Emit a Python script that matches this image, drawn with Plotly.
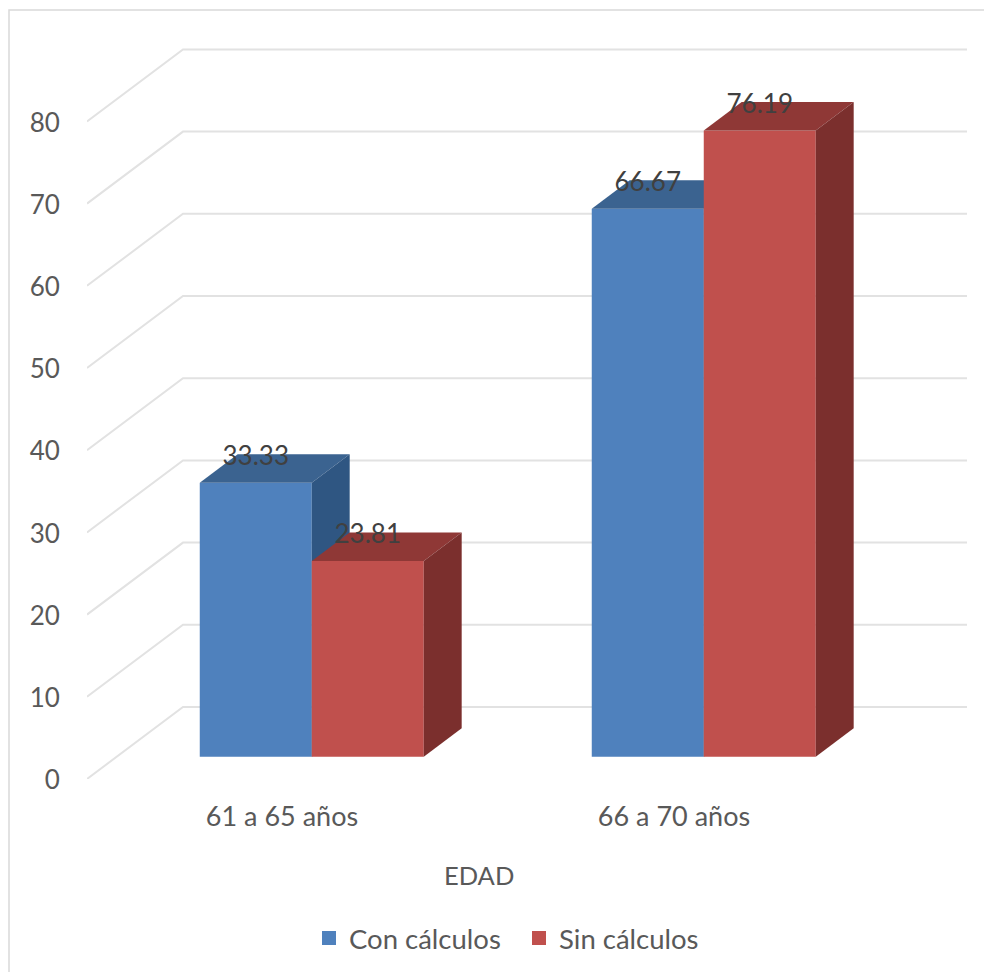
import plotly.graph_objects as go

# Chart values
categories = ["61 a 65 años", "66 a 70 años"]
con_calculos = [33.33, 66.67]
sin_calculos = [23.81, 76.19]
y_ticks = [0, 10, 20, 30, 40, 50, 60, 70, 80]

# Page and plot geometry
WIDTH, HEIGHT = 984, 972
M_L, M_R, M_T, M_B = 87, 17, 40, 193
PLOT_W = WIDTH - M_L - M_R
PLOT_H = HEIGHT - M_T - M_B
PX_PER_CAT = 392.0
PX_PER_UNIT = 8.22
X_MIN = -(282 - M_L) / PX_PER_CAT
X_MAX = X_MIN + PLOT_W / PX_PER_CAT
Y_MAX = PLOT_H / PX_PER_UNIT

# Oblique projection: depth of the floor in axis units
DEPTH_X = 96 / PX_PER_CAT
DEPTH_Y = 72 / PX_PER_UNIT
BAR_W = 112 / PX_PER_CAT
BAR_DEPTH = 0.395  # how much of the depth a bar takes
bar_dx = BAR_DEPTH * DEPTH_X
bar_dy = BAR_DEPTH * DEPTH_Y
floor_x = 0.31 * DEPTH_X
floor_y = 0.31 * DEPTH_Y
LABEL_DROP = 0.5   # value labels sit just below the roof's back edge

BLUE = dict(front="#4F81BD", top="#3B6390", side="#2F5682")
RED = dict(front="#C0504D", top="#8F3836", side="#7B2F2D")
INK = "#595959"
LABEL_INK = "#404040"
GRID = "#E2E2E2"
FONT = "Lato"

fig = go.Figure()


def add_series(name, values, colors, side_sign, xa, ya):
    """One series: front faces as bars, roof and flank as filled polygons."""
    lefts, rights = [], []
    for i in range(len(values)):
        centre = i + floor_x
        lefts.append(centre - BAR_W if side_sign < 0 else centre)
        rights.append(centre if side_sign < 0 else centre + BAR_W)

    fig.add_trace(go.Bar(
        x=[(a + b) / 2 for a, b in zip(lefts, rights)], y=values, base=floor_y,
        width=BAR_W, marker=dict(color=colors["front"], line=dict(width=0)),
        name=name, showlegend=False, xaxis=xa, yaxis=ya,
    ))
    for left, right, v in zip(lefts, rights, values):
        top = floor_y + v
        fig.add_trace(go.Scatter(
            x=[left, right, right + bar_dx, left + bar_dx, left],
            y=[top, top, top + bar_dy, top + bar_dy, top],
            fill="toself", fillcolor=colors["top"], mode="none",
            showlegend=False, hoverinfo="skip", xaxis=xa, yaxis=ya,
        ))
        fig.add_trace(go.Scatter(
            x=[right, right + bar_dx, right + bar_dx, right, right],
            y=[floor_y, floor_y + bar_dy, top + bar_dy, top, floor_y],
            fill="toself", fillcolor=colors["side"], mode="none",
            showlegend=False, hoverinfo="skip", xaxis=xa, yaxis=ya,
        ))
    return lefts, rights


# The red series sits on overlaying axes so its faces stack above the blue ones
blue_l, blue_r = add_series("Con cálculos", con_calculos, BLUE, -1, "x", "y")
red_l, red_r = add_series("Sin cálculos", sin_calculos, RED, 1, "x2", "y2")

# Value labels at the back edge of each roof
label_x, label_y, label_text = [], [], []
for lefts, rights, values in ((blue_l, blue_r, con_calculos), (red_l, red_r, sin_calculos)):
    for left, right, v in zip(lefts, rights, values):
        label_x.append((left + right) / 2)
        label_y.append(floor_y + v + bar_dy - LABEL_DROP)
        label_text.append(f"{v:.2f}")
fig.add_trace(go.Scatter(
    x=label_x, y=label_y, text=label_text, mode="text", textposition="middle center",
    textfont=dict(family=FONT, size=26, color=LABEL_INK),
    showlegend=False, hoverinfo="skip", xaxis="x2", yaxis="y2",
))

# Legend entries
for name, colors in (("Con cálculos", BLUE), ("Sin cálculos", RED)):
    fig.add_trace(go.Scatter(
        x=[None], y=[None], mode="markers", name=name,
        marker=dict(symbol="square", size=16, color=colors["front"],
                    line=dict(color=colors["front"], width=2)),
    ))

# Back-wall gridlines with their diagonal run along the side wall
shapes = []
for t in y_ticks:
    shapes.append(dict(
        type="path", layer="below", xref="x", yref="y",
        path=f"M {X_MIN} {t} L {X_MIN + DEPTH_X} {t + DEPTH_Y} L {X_MAX} {t + DEPTH_Y}",
        line=dict(color=GRID, width=2),
    ))
# Chart frame: only the top and left edges fall inside the page
frame_x = (9 - M_L) / PLOT_W
frame_y = (HEIGHT - M_B - 10) / PLOT_H
frame_bottom = -M_B / PLOT_H
frame_right = (WIDTH - M_L) / PLOT_W
shapes.append(dict(
    type="path", layer="below", xref="paper", yref="paper",
    path=f"M {frame_x} {frame_bottom} L {frame_x} {frame_y} L {frame_right} {frame_y}",
    line=dict(color="#D9D9D9", width=1.5),
))

fig.update_layout(
    width=WIDTH, height=HEIGHT, autosize=False,
    margin=dict(l=M_L, r=M_R, t=M_T, b=M_B, pad=0),
    paper_bgcolor="white", plot_bgcolor="rgba(0,0,0,0)",
    barmode="overlay", shapes=shapes,
    font=dict(family=FONT, color=INK, size=26),
    xaxis=dict(
        range=[X_MIN, X_MAX], tickmode="array", tickvals=[0, 1], ticktext=categories,
        showgrid=False, zeroline=False, showline=False,
        ticks="outside", ticklen=14, tickcolor="rgba(0,0,0,0)",
        tickfont=dict(family=FONT, size=27, color=INK),
    ),
    yaxis=dict(
        range=[0, Y_MAX], tickmode="array", tickvals=y_ticks,
        showgrid=False, zeroline=False, showline=False,
        ticks="outside", ticklen=21, tickcolor="rgba(0,0,0,0)", ticklabelshift=1,
        tickfont=dict(family=FONT, size=26, color=INK),
    ),
    xaxis2=dict(range=[X_MIN, X_MAX], overlaying="x", visible=False),
    yaxis2=dict(range=[0, Y_MAX], overlaying="y", visible=False),
    # Placed against the page rather than the plot so it reserves no margin
    legend=dict(
        orientation="h", xref="container", yref="container",
        x=309 / WIDTH, xanchor="left",
        y=1 - 938 / HEIGHT, yanchor="middle",
        font=dict(family=FONT, size=27.5, color=INK), itemsizing="constant",
        bgcolor="rgba(0,0,0,0)", entrywidth=165, entrywidthmode="pixels",
    ),
    annotations=[dict(
        text="EDAD", xref="paper", yref="paper",
        x=(479 - M_L) / PLOT_W, y=(HEIGHT - M_B - 875) / PLOT_H,
        xanchor="center", yanchor="middle", showarrow=False,
        font=dict(family=FONT, size=25.5, color=INK),
    )],
)

fig.write_html("out.html")
